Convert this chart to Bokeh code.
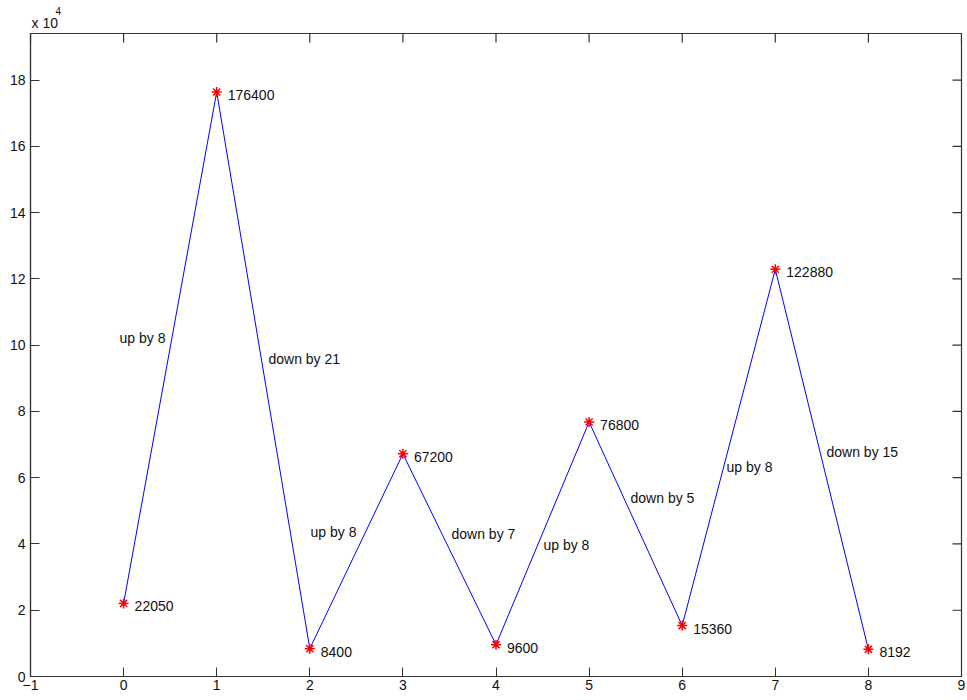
import math
from bokeh.plotting import figure
from bokeh.models import Range1d, FixedTicker, Title, ColumnDataSource
from bokeh.core.properties import value
from bokeh.embed import file_html
from bokeh.resources import INLINE

# data
steps = [0, 1, 2, 3, 4, 5, 6, 7, 8]
values = [22050, 176400, 8400, 67200, 9600, 76800, 15360, 122880, 8192]
notes = ["up by 8", "down by 21", "up by 8", "down by 7", "up by 8",
         "down by 5", "up by 8", "down by 15"]
note_x = [-0.044, 1.556, 2.008, 3.522, 4.510, 5.445, 6.476, 7.550]
note_y = [102200, 95880, 43720, 43120, 39800, 53970, 63320, 67840]
x_ticks = [-1, 0, 1, 2, 3, 4, 5, 6, 7, 8, 9]
y_ticks = [0, 20000, 40000, 60000, 80000, 100000, 120000, 140000, 160000, 180000]
y_tick_labels = ["0", "2", "4", "6", "8", "10", "12", "14", "16", "18"]

FONT = "Liberation Sans"
AX = "#333333"
TXT = "#111111"
xmin, xmax = -1, 9
ymax = max(values) * 1.1

p = figure(width=967, height=700, output_backend="svg", toolbar_location=None,
           x_range=Range1d(xmin, xmax), y_range=Range1d(0, ymax),
           min_border_left=30, min_border_right=6, min_border_top=33,
           min_border_bottom=24, background_fill_color="white",
           border_fill_color="white")
p.grid.visible = False
p.outline_line_color = AX
p.outline_line_width = 1.2

for ax in (p.xaxis[0], p.yaxis[0]):
    ax.axis_line_color = AX
    ax.axis_line_width = 1.2
    ax.major_tick_line_color = AX
    ax.major_tick_in = 9
    ax.major_tick_out = 0
    ax.minor_tick_line_color = None
    ax.major_label_text_font = FONT
    ax.major_label_text_color = TXT
    ax.major_label_text_font_size = "14px"

p.xaxis.ticker = FixedTicker(ticks=x_ticks)
p.yaxis.ticker = FixedTicker(ticks=y_ticks)
p.yaxis.major_label_overrides = {t: l for t, l in zip(y_ticks, y_tick_labels)}
p.xaxis[0].major_label_standoff = 3
p.yaxis[0].major_label_standoff = 5

# tick marks on the top and right edges of the box
p.ray(x=x_ticks, y=[ymax] * len(x_ticks), length=9, length_units="screen",
      angle=-math.pi / 2, line_color=AX, line_width=1.2)
p.ray(x=[xmax] * len(y_ticks), y=y_ticks, length=9, length_units="screen",
      angle=math.pi, line_color=AX, line_width=1.2)

src = ColumnDataSource(dict(x=steps, y=values, t=[str(v) for v in values]))
p.line("x", "y", source=src, line_color="#0000FF", line_width=1)
p.scatter("x", "y", source=src, marker="asterisk", size=10,
          line_color="#FF0000", line_width=1.5)
p.text("x", "y", text="t", source=src, x_offset=11, y_offset=3,
       text_font=value(FONT), text_font_size="14px", text_color=TXT,
       text_baseline="middle", text_align="left")

nsrc = ColumnDataSource(dict(x=note_x, y=note_y, t=notes))
p.text("x", "y", text="t", source=nsrc,
       text_font=value(FONT), text_font_size="14px", text_color=TXT,
       text_baseline="middle", text_align="left")

# "x 10^4" exponent label above the axes (outermost title holds the "4")
p.title.text = "4"
p.title.align = "left"
p.title.offset = 25
p.title.standoff = -8
p.title.text_font = FONT
p.title.text_font_size = "10px"
p.title.text_font_style = "normal"
p.title.text_color = TXT
p.add_layout(Title(text="x 10", align="left", offset=1, standoff=5,
                   text_font=FONT, text_font_size="14px",
                   text_font_style="normal", text_color=TXT), "above")

open("out.html", "w").write(file_html(p, INLINE))
